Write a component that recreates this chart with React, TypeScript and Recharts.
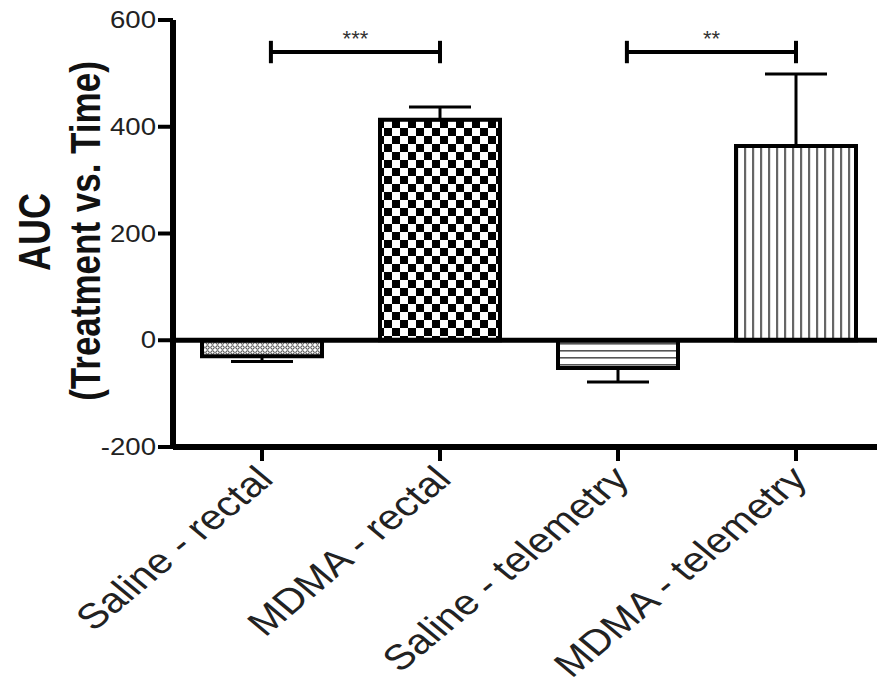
import React from 'react'
import {
  BarChart,
  Bar,
  XAxis,
  YAxis,
  Cell,
  ErrorBar,
  ReferenceLine,
  ReferenceDot,
} from 'recharts'

// values
const groups = ['Saline - rectal', 'MDMA - rectal', 'Saline - telemetry', 'MDMA - telemetry']
const auc = [-30, 413, -52, 364]
const sem = [10, 24, 26, 135]
const fills = ['url(#dots)', 'url(#checker)', 'url(#hlines)', 'url(#vlines)']
const yTicks = [-200, 0, 200, 400, 600]

// significance brackets, positions in category index units
const bracketFrom = [0.05, 2.05]
const bracketTo = [1, 3]
const bracketY = [540, 540]
const bracketStars = ['***', '**']

const FONT = '"Liberation Sans", Arial, sans-serif'
const STRETCH = 1.2
const AXIS_X = 173
const AXIS_Y = 447

const data = groups.map((g, i) => ({
  name: g,
  idx: i,
  auc: auc[i],
  // one-sided error bar, pointing away from zero
  err: auc[i] < 0 ? [sem[i], 0] : [0, sem[i]],
}))

const YTick = (props: any) => {
  const { y, payload } = props
  return (
    <g>
      <line x1={AXIS_X - 15} x2={AXIS_X} y1={y} y2={y} stroke="#000" strokeWidth={4} />
      <text
        transform={`translate(${AXIS_X - 17} ${y}) scale(${STRETCH} 1)`}
        textAnchor="end"
        dominantBaseline="central"
        fontSize={23}
        fontFamily={FONT}
        fill="#222"
      >
        {payload.value}
      </text>
    </g>
  )
}

const XTick = (props: any) => {
  const { x, payload } = props
  return (
    <g>
      <line x1={x} x2={x} y1={AXIS_Y} y2={AXIS_Y + 14} stroke="#000" strokeWidth={4} />
      <text
        transform={`translate(${x + 13} ${AXIS_Y + 34}) scale(${STRETCH} 1) rotate(-45)`}
        textAnchor="end"
        fontSize={35}
        fontFamily={FONT}
        fill="#222"
      >
        {payload.value}
      </text>
    </g>
  )
}

const Patterns = () => (
  <svg width={0} height={0} style={{ position: 'absolute' }}>
    <defs>
      <pattern id="dots" width={5} height={5} patternUnits="userSpaceOnUse">
        <rect width={5} height={5} fill="#fff" />
        <circle cx={2.5} cy={2.5} r={1.7} fill="#fff" stroke="#333" strokeWidth={1} />
      </pattern>
      <pattern id="checker" width={16} height={16} patternUnits="userSpaceOnUse">
        <rect width={16} height={16} fill="#fff" />
        <rect x={0} y={0} width={8} height={8} fill="#000" />
        <rect x={8} y={8} width={8} height={8} fill="#000" />
      </pattern>
      <pattern id="hlines" width={7} height={7} patternUnits="userSpaceOnUse">
        <rect width={7} height={7} fill="#fff" />
        <rect x={0} y={0} width={7} height={1.6} fill="#555" />
      </pattern>
      <pattern id="vlines" width={8} height={8} patternUnits="userSpaceOnUse">
        <rect width={8} height={8} fill="#fff" />
        <rect x={0} y={0} width={2.2} height={8} fill="#666" />
      </pattern>
    </defs>
  </svg>
)

export default function App() {
  return (
    <div
      style={{
        position: 'absolute',
        left: 0,
        top: 0,
        width: 877,
        height: 684,
        overflow: 'hidden',
        background: '#fff',
      }}
    >
      <Patterns />
      <BarChart
        width={885}
        height={684}
        data={data}
        margin={{ top: 20, right: 0, bottom: 0, left: 0 }}
      >
        <XAxis
          xAxisId="cat"
          dataKey="name"
          height={684 - AXIS_Y}
          interval={0}
          axisLine={false}
          tickLine={false}
          tick={<XTick />}
        />
        <XAxis xAxisId="num" type="number" dataKey="idx" domain={[-0.5, 3.5]} hide />
        <YAxis
          domain={[-200, 600]}
          ticks={yTicks}
          width={AXIS_X}
          interval={0}
          axisLine={false}
          tickLine={false}
          tick={<YTick />}
        />
        <Bar
          xAxisId="cat"
          dataKey="auc"
          barSize={120}
          stroke="#000"
          strokeWidth={4}
          isAnimationActive={false}
        >
          {data.map((d, i) => (
            <Cell key={d.name} fill={fills[i]} />
          ))}
          <ErrorBar dataKey="err" width={31} stroke="#000" strokeWidth={3} direction="y" />
        </Bar>
        {/* axis lines and the zero line */}
        <ReferenceLine xAxisId="num" x={-0.5} stroke="#000" strokeWidth={6} ifOverflow="visible" />
        <ReferenceLine xAxisId="num" y={-200} stroke="#000" strokeWidth={6} ifOverflow="visible" />
        <ReferenceLine xAxisId="num" y={0} stroke="#000" strokeWidth={5} ifOverflow="visible" />
        {bracketFrom.map((f, i) => (
          <ReferenceLine
            key={`h${i}`}
            xAxisId="num"
            stroke="#000"
            strokeWidth={4}
            segment={[
              { x: f, y: bracketY[i] },
              { x: bracketTo[i], y: bracketY[i] },
            ]}
          />
        ))}
        {bracketFrom.map((f, i) => (
          <ReferenceLine
            key={`l${i}`}
            xAxisId="num"
            stroke="#000"
            strokeWidth={4}
            segment={[
              { x: f, y: bracketY[i] - 21 },
              { x: f, y: bracketY[i] + 21 },
            ]}
          />
        ))}
        {bracketTo.map((t, i) => (
          <ReferenceLine
            key={`r${i}`}
            xAxisId="num"
            stroke="#000"
            strokeWidth={4}
            segment={[
              { x: t, y: bracketY[i] - 21 },
              { x: t, y: bracketY[i] + 21 },
            ]}
          />
        ))}
        {bracketStars.map((s, i) => (
          <ReferenceDot
            key={`s${i}`}
            xAxisId="num"
            x={(bracketFrom[i] + bracketTo[i]) / 2}
            y={bracketY[i]}
            r={0}
            fill="none"
            stroke="none"
            label={{ value: s, position: 'top', offset: 6, fontSize: 22, fill: '#333', fontFamily: FONT }}
          />
        ))}
      </BarChart>
      <svg
        width={877}
        height={684}
        style={{ position: 'absolute', left: 0, top: 0, pointerEvents: 'none' }}
      >
        <text
          transform={`translate(50 232) scale(1.25 1) rotate(-90)`}
          textAnchor="middle"
          fontSize={36}
          fontWeight="bold"
          fontFamily={FONT}
          fill="#111"
        >
          AUC
        </text>
        <text
          transform={`translate(100 231) scale(1.2 1) rotate(-90)`}
          textAnchor="middle"
          fontSize={35}
          fontWeight="bold"
          fontFamily={FONT}
          fill="#111"
        >
          (Treatment vs. Time)
        </text>
      </svg>
    </div>
  )
}
